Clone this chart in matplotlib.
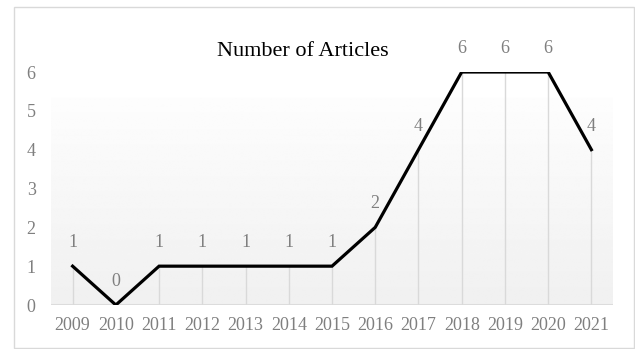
import numpy as np
import matplotlib
matplotlib.use("Agg")
import matplotlib.pyplot as plt
from matplotlib.patches import Rectangle

# Datos del grafico
years = ["2009", "2010", "2011", "2012", "2013", "2014", "2015",
         "2016", "2017", "2018", "2019", "2020", "2021"]
articles = [1, 0, 1, 1, 1, 1, 1, 2, 4, 6, 6, 6, 4]
y_ticks = [0, 1, 2, 3, 4, 5, 6]

plt.rcParams['font.family'] = ['Liberation Serif', 'DejaVu Serif']
grey_text = '#7f7f7f'
light_line = '#d9d9d9'

fig = plt.figure(figsize=(6.35, 3.49), dpi=100)
ax = fig.add_axes([51 / 635, 1 - 305 / 349, (613 - 51) / 635, (305 - 72) / 349])

x = np.arange(len(years))
ax.set_xlim(-0.5, len(years) - 0.5)
ax.set_ylim(0, 6)

# Fondo con degradado (blanco arriba, gris claro abajo)
rows = np.linspace(6, 0, 200)
top = 5.36
shade = np.where(rows > top, 255, 253 - 13 * (top - rows) / top) / 255.0
grad = np.repeat(shade[:, None], 2, axis=1)
ax.imshow(grad, cmap='gray', vmin=0, vmax=1, aspect='auto',
          extent=[-0.5, len(years) - 0.5, 0, 6], zorder=0, interpolation='bilinear')

# Lineas de caida desde cada punto hasta el eje
ax.vlines(x, 0, articles, color=light_line, lw=1.0, zorder=1)
ax.axhline(0, color=light_line, lw=1.2, zorder=1)

ax.plot(x, articles, color='black', lw=2.3, solid_joinstyle='miter', zorder=3)

for xi, v in zip(x, articles):
    ax.annotate(str(v), (xi, v), xytext=(0, 17), textcoords='offset points',
                ha='center', va='center', fontsize=13, color=grey_text, zorder=4)

ax.set_xticks(x)
ax.set_xticklabels(years)
ax.set_yticks(y_ticks)
ax.tick_params(axis='both', length=0, labelsize=13, labelcolor=grey_text)
ax.tick_params(axis='x', pad=9)
ax.tick_params(axis='y', pad=11)
for s in ax.spines.values():
    s.set_visible(False)

fig.text(303 / 635, 1 - 52 / 349, 'Number of Articles', ha='center', va='center',
         fontsize=16, color='black')

# Borde exterior del grafico
fig.patches.append(Rectangle((14 / 635, 1 - 348 / 349), 620 / 635, 341 / 349,
                             transform=fig.transFigure, fill=False,
                             edgecolor=light_line, lw=1.0))

fig.savefig('out.png', dpi=100)
